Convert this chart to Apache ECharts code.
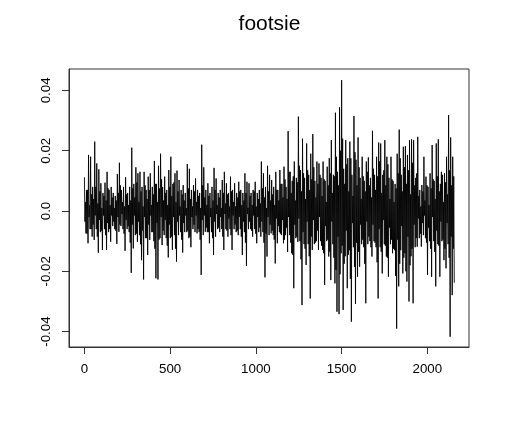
<!DOCTYPE html>
<html>
<head>
<meta charset="utf-8">
<style>html,body{margin:0;padding:0;background:#fff}#c{width:505px;height:433px}</style>
<script src="https://cdn.jsdelivr.net/npm/echarts@6/dist/echarts.min.js"></script>
</head>
<body>
<div id="c"></div>
<script>
const chartTitle = "footsie";
const xTicks = [0, 500, 1000, 1500, 2000];
const yTicks = [-0.04, -0.02, 0, 0.02, 0.04];
const yTickLabels = ["-0.04", "-0.02", "0.0", "0.02", "0.04"];
const indexStep = 3;
const upperSwings = [
.0112,.007,.0186,.018,.008,.023,.0158,.0138,.0092,.006,.0094,.013,.007,.008,.006,.005,.0123,.016,.007,.008,
.0112,.006,.008,.021,.009,.0145,.0125,.013,.008,.013,.007,.0114,.0125,.008,.0166,.009,.015,.019,.008,.0114,
.007,.0136,.018,.009,.0125,.0134,.0103,.007,.0086,.006,.0156,.014,.007,.0086,.0108,.007,.006,.022,.0145,.007,
.0092,.006,.008,.0143,.0108,.006,.007,.0103,.013,.0092,.006,.0114,.007,.0092,.006,.0097,.007,.006,.0125,.0097,
.0092,.006,.007,.0097,.006,.007,.0164,.0125,.008,.015,.012,.0103,.008,.013,.007,.0136,.009,.0147,.008,.0265,
.013,.01,.0164,.011,.0313,.0136,.024,.011,.0224,.012,.019,.0255,.01,.0164,.0158,.011,.0164,.01,.0147,.0175,
.0235,.012,.0326,.013,.0344,.0434,.014,.0235,.0175,.023,.012,.0315,.017,.0244,.011,.018,.01,.0164,.0178,.011,
.0266,.012,.018,.0227,.0224,.012,.0235,.018,.011,.018,.01,.009,.019,.027,.012,.0213,.0215,.0186,.0235,.0238,
.0235,.011,.0246,.007,.0086,.018,.0114,.008,.0125,.0219,.01,.0224,.0238,.009,.012,.0125,.018,.0318,.0244,.018
];
const lowerSwings = [
-.0074,-.0107,-.006,-.0085,-.0096,-.006,-.0138,-.007,-.0129,-.006,-.0129,-.007,-.0102,-.005,-.006,-.0109,-.0069,-.005,-.006,-.0132,
-.006,-.007,-.0205,-.0124,-.008,-.0102,-.008,-.0163,-.0227,-.009,-.0146,-.0096,-.007,-.01,-.0223,-.0227,-.009,-.0113,-.008,-.009,
-.0154,-.009,-.0129,-.008,-.0168,-.008,-.007,-.0138,-.007,-.007,-.009,-.012,-.006,-.007,-.0074,-.007,-.0212,-.008,-.0069,-.007,
-.0107,-.007,-.0146,-.0085,-.006,-.007,-.006,-.0129,-.006,-.0085,-.006,-.0129,-.006,-.007,-.008,-.006,-.0146,-.007,-.0182,-.006,
-.006,-.0085,-.006,-.0107,-.007,-.0085,-.007,-.022,-.0151,-.008,-.0074,-.008,-.0174,-.0107,-.007,-.008,-.0107,-.008,-.0136,-.008,
-.014,-.0256,-.009,-.0102,-.01,-.0312,-.011,-.0179,-.011,-.029,-.0129,-.011,-.01,-.0129,-.01,-.0129,-.0245,-.01,-.0151,-.0229,
-.011,-.024,-.0334,-.0342,-.014,-.0328,-.015,-.0256,-.013,-.0367,-.012,-.0308,-.0218,-.0185,-.011,-.012,-.0306,-.011,-.01,-.0151,
-.01,-.012,-.029,-.012,-.0207,-.011,-.0151,-.0218,-.011,-.014,-.013,-.039,-.025,-.013,-.0207,-.014,-.0234,-.03,-.015,-.0306,
-.012,-.0118,-.009,-.0118,-.008,-.009,-.0212,-.01,-.0218,-.01,-.025,-.011,-.0218,-.01,-.0163,-.019,-.011,-.0417,-.0279,-.0238
];
// Smaller swings inside the dark band around zero, one of each per 12 observations
const coreUpper = [
.003,.007,.002,.0055,.004,.008,.0025,.0065,.001,.005,.0035,.0075,.002,.0045,.001,.0035,.006,.0085,.003,.0015,
.0055,.002,.0035,.0075,.0045,.0095,.003,.0065,.0015,.0085,.004,.007,.002,.0055,.009,.003,.0075,.0105,.0035,.006,
.002,.008,.005,.0095,.003,.0065,.0015,.0055,.0035,.001,.0075,.004,.0015,.0065,.003,.005,.001,.0085,.0045,.002,
.005,.001,.0035,.007,.002,.0045,.001,.006,.0025,.0055,.0015,.0065,.003,.0015,.0045,.0065,.002,.0035,.006,.001,
.005,.002,.0065,.0015,.004,.0025,.0075,.0045,.001,.0065,.0035,.0055,.002,.007,.0035,.009,.0045,.0105,.004,.013,
.006,.0115,.0035,.0095,.015,.0065,.0125,.004,.0135,.007,.0105,.0145,.0045,.009,.012,.005,.0105,.003,.0085,.0125,
.006,.0115,.018,.0085,.02,.024,.009,.0155,.0065,.0175,.005,.0195,.0085,.0145,.004,.0115,.0065,.013,.0085,.0045,
.014,.007,.0115,.0165,.006,.0135,.0085,.0155,.004,.0105,.003,.0075,.0125,.0175,.0065,.0145,.009,.0135,.0055,.016,
.0085,.0125,.005,.0015,.0065,.0035,.0085,.002,.0075,.0105,.004,.0115,.0065,.013,.003,.0095,.0055,.0135,.0085,.0115
];
const coreLower = [
-.0035,-.0075,-.002,-.006,-.0045,-.0015,-.0085,-.003,-.0065,-.0015,-.008,-.004,-.006,-.0015,-.0035,-.0065,-.002,-.0045,-.001,-.0075,
-.003,-.005,-.0105,-.0045,-.0015,-.0075,-.0035,-.011,-.0065,-.002,-.009,-.0045,-.0015,-.007,-.0125,-.004,-.0095,-.002,-.0065,-.003,
-.0115,-.0045,-.0085,-.002,-.0125,-.0035,-.0015,-.0095,-.004,-.0015,-.0065,-.0085,-.002,-.0045,-.0015,-.006,-.0095,-.003,-.0015,-.0055,
-.007,-.002,-.009,-.0035,-.001,-.0055,-.002,-.0085,-.001,-.0065,-.0025,-.008,-.0015,-.0045,-.0065,-.002,-.0085,-.0035,-.0105,-.001,
-.0035,-.0065,-.0015,-.0075,-.002,-.0055,-.0035,-.0105,-.0075,-.002,-.0045,-.0065,-.0095,-.0025,-.005,-.0075,-.003,-.0095,-.0055,-.002,
-.0105,-.0145,-.0045,-.0085,-.0025,-.016,-.007,-.0125,-.0035,-.015,-.0085,-.003,-.0105,-.0065,-.002,-.0115,-.014,-.005,-.0095,-.0135,
-.0035,-.0155,-.0195,-.0085,-.021,-.0115,-.0175,-.0065,-.0145,-.0225,-.004,-.0185,-.0105,-.0135,-.0045,-.0095,-.0175,-.0035,-.0085,-.012,
-.0045,-.0105,-.017,-.006,-.0135,-.003,-.0115,-.0155,-.0055,-.0095,-.0125,-.0215,-.0095,-.0175,-.005,-.0155,-.02,-.0085,-.018,-.0125,
-.0045,-.009,-.0025,-.0075,-.004,-.0015,-.0105,-.0055,-.0125,-.002,-.0135,-.0065,-.0115,-.0035,-.0095,-.0125,-.004,-.0155,-.0085,-.0125
];
const seriesData = [];
upperSwings.forEach((u, k) => {
  const values = [u, coreLower[k], coreUpper[k], lowerSwings[k]];
  values.forEach((v, j) => seriesData.push([(4 * k + j) * indexStep, v]));
});
const ink = "#333";
const labelFont = {color: "#000", fontFamily: "Liberation Sans", fontSize: 13.3};
const chart = echarts.init(document.getElementById("c"), null, {renderer: "canvas"});
chart.setOption({
  animation: false,
  backgroundColor: "#fff",
  title: {
    text: chartTitle, left: 264.5, top: 9, textAlign: "center",
    textStyle: {color: "#000", fontFamily: "Liberation Sans", fontSize: 21, fontWeight: "normal"}
  },
  grid: {left: 69, right: 36, top: 69, bottom: 86, show: true, borderColor: ink, borderWidth: 1, backgroundColor: "#fff"},
  xAxis: {
    type: "value", min: -90, max: 2243, splitLine: {show: false},
    axisLine: {show: true, onZero: false, lineStyle: {color: ink, width: 1}},
    axisTick: {show: true, length: 7, customValues: xTicks, lineStyle: {color: ink, width: 1}},
    axisLabel: {show: true, customValues: xTicks, margin: 16, hideOverlap: false, ...labelFont, formatter: v => String(v)}
  },
  yAxis: {
    type: "value", min: -0.0451, max: 0.0471, splitLine: {show: false},
    axisLine: {show: true, onZero: false, lineStyle: {color: ink, width: 1}},
    axisTick: {show: true, length: 7, customValues: yTicks, lineStyle: {color: ink, width: 1}},
    axisLabel: {
      show: true, customValues: yTicks, rotate: 90, margin: 16, hideOverlap: false, ...labelFont,
      align: "center", verticalAlign: "bottom",
      formatter: v => yTickLabels[yTicks.findIndex(t => Math.abs(t - v) < 1e-9)]
    }
  },
  series: [{
    type: "line", data: seriesData, showSymbol: false, symbol: "none", sampling: null, silent: true,
    lineStyle: {color: "#000", width: 0.9, join: "miter"}
  }]
});
</script>
</body>
</html>
